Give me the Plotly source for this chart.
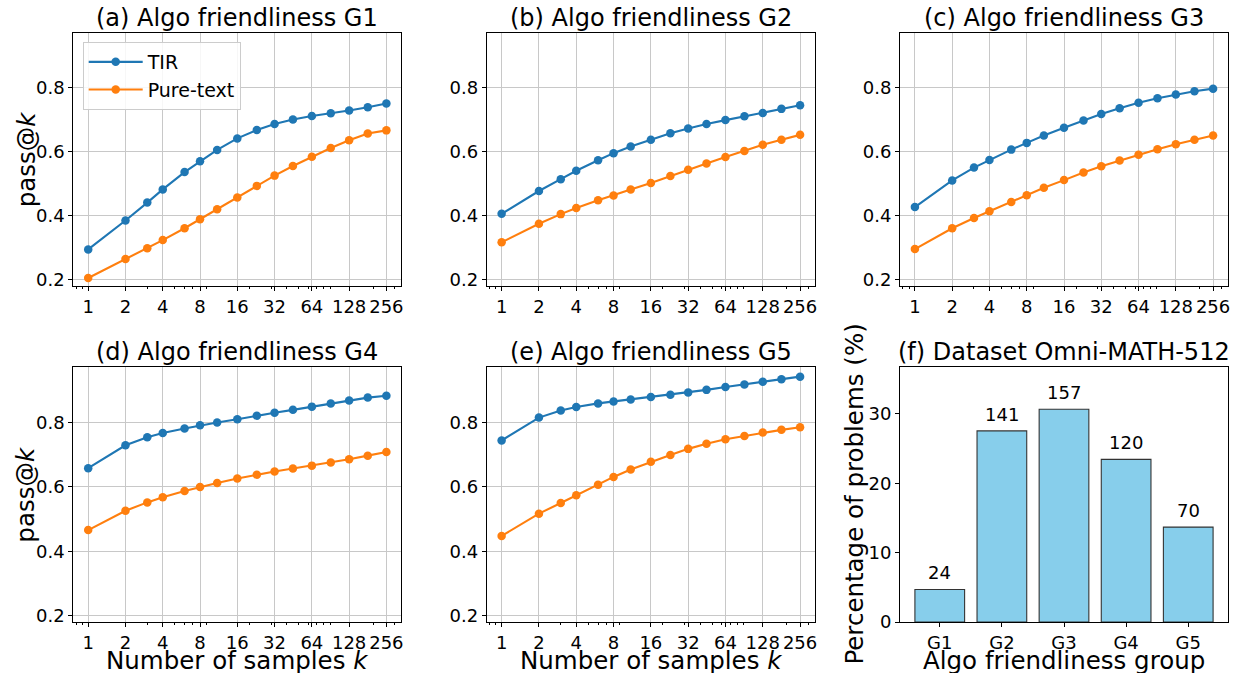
import plotly.graph_objects as go

# ---------------- data ----------------
k_values = [1, 2, 3, 4, 6, 8, 11, 16, 23, 32, 45, 64, 91, 128, 181, 256]
x_tick_vals = [1, 2, 4, 8, 16, 32, 64, 128, 256]
x_tick_text = ["1", "2", "4", "8", "16", "32", "64", "128", "256"]
x_minor_vals = [0.8, 0.9, 3, 5, 6, 7, 9, 20, 30, 40, 50, 60, 70, 80, 90, 200, 300]
y_tick_vals = [0.2, 0.4, 0.6, 0.8]
y_tick_text = ["0.2", "0.4", "0.6", "0.8"]

g1_tir = [0.295, 0.385, 0.441, 0.482, 0.536, 0.570, 0.605, 0.641, 0.667, 0.686, 0.700, 0.711, 0.719, 0.728, 0.738, 0.750]
g1_pure = [0.206, 0.265, 0.299, 0.324, 0.361, 0.389, 0.420, 0.457, 0.493, 0.525, 0.555, 0.584, 0.611, 0.635, 0.656, 0.666]
g2_tir = [0.406, 0.477, 0.514, 0.540, 0.573, 0.595, 0.616, 0.637, 0.657, 0.672, 0.686, 0.698, 0.710, 0.720, 0.733, 0.744]
g2_pure = [0.317, 0.375, 0.405, 0.424, 0.448, 0.463, 0.482, 0.502, 0.524, 0.543, 0.563, 0.583, 0.602, 0.621, 0.637, 0.652]
g3_tir = [0.427, 0.510, 0.550, 0.574, 0.606, 0.627, 0.650, 0.674, 0.697, 0.717, 0.735, 0.752, 0.766, 0.778, 0.788, 0.796]
g3_pure = [0.296, 0.361, 0.393, 0.414, 0.443, 0.464, 0.487, 0.511, 0.535, 0.554, 0.572, 0.590, 0.607, 0.623, 0.637, 0.650]
g4_tir = [0.658, 0.729, 0.754, 0.767, 0.781, 0.791, 0.800, 0.810, 0.821, 0.830, 0.839, 0.849, 0.859, 0.868, 0.877, 0.883]
g4_pure = [0.466, 0.526, 0.552, 0.568, 0.587, 0.600, 0.612, 0.626, 0.638, 0.648, 0.657, 0.666, 0.676, 0.686, 0.697, 0.708]
g5_tir = [0.744, 0.815, 0.837, 0.848, 0.859, 0.865, 0.871, 0.879, 0.886, 0.893, 0.901, 0.910, 0.918, 0.926, 0.934, 0.942]
g5_pure = [0.448, 0.517, 0.550, 0.574, 0.607, 0.631, 0.654, 0.678, 0.699, 0.718, 0.734, 0.748, 0.758, 0.769, 0.777, 0.785]

panel_titles = ["(a) Algo friendliness G1", "(b) Algo friendliness G2", "(c) Algo friendliness G3",
                "(d) Algo friendliness G4", "(e) Algo friendliness G5", "(f) Dataset Omni-MATH-512"]
series_names = ["TIR", "Pure-text"]

groups = ["G1", "G2", "G3", "G4", "G5"]
group_counts = [24, 141, 157, 120, 70]
total_problems = 512

# ---------------- layout helpers ----------------
W, H = 1234, 673
FONT = "DejaVu Sans"
BLUE = "#1f77b4"
ORANGE = "#ff7f0e"
GRID = "#c8c8c8"
TICK_SIZE = 18

col_px = [(73.3, 401.3), (486.7, 815.0), (900.0, 1228.0)]
row_px = [(32.5, 286.0), (367.3, 622.0)]


def xdom(c):
    return [col_px[c][0] / W, col_px[c][1] / W]


def ydom(r):
    return [1 - row_px[r][1] / H, 1 - row_px[r][0] / H]


fig = go.Figure()
layout = dict(
    template="none",
    width=W, height=H,
    margin=dict(l=0, r=0, t=0, b=0, pad=0, autoexpand=False),
    paper_bgcolor="white", plot_bgcolor="white",
    font=dict(family=FONT, size=TICK_SIZE, color="black"),
    showlegend=True,
    legend=dict(
        x=82.7 / W, y=1 - 42.0 / H, xanchor="left", yanchor="top",
        bgcolor="rgba(255,255,255,0.85)", bordercolor="#cccccc", borderwidth=1,
        font=dict(family=FONT, size=19), itemwidth=54, tracegroupgap=0,
    ),
)

line_data = [(g1_tir, g1_pure), (g2_tir, g2_pure), (g3_tir, g3_pure), (g4_tir, g4_pure), (g5_tir, g5_pure)]
annotations = []

for i in range(6):
    r, c = divmod(i, 3)
    ax = "" if i == 0 else str(i + 1)
    xa = "xaxis" + ax
    ya = "yaxis" + ax
    common = dict(showline=True, mirror=True, linecolor="black", linewidth=1,
                  ticks="outside", tickcolor="black", ticklen=4, tickwidth=1,
                  zeroline=False, automargin=False,
                  tickfont=dict(family=FONT, size=TICK_SIZE, color="black"))
    if i < 5:
        tir, pure = line_data[i]
        fig.add_trace(go.Scatter(x=k_values, y=tir, mode="lines+markers", name=series_names[0],
                                 line=dict(color=BLUE, width=2.1), marker=dict(color=BLUE, size=8.5),
                                 xaxis="x" + ax, yaxis="y" + ax, showlegend=(i == 0), legendgroup="tir"))
        fig.add_trace(go.Scatter(x=k_values, y=pure, mode="lines+markers", name=series_names[1],
                                 line=dict(color=ORANGE, width=2.1), marker=dict(color=ORANGE, size=8.5),
                                 xaxis="x" + ax, yaxis="y" + ax, showlegend=(i == 0), legendgroup="pure"))
        layout[xa] = dict(domain=xdom(c), anchor="y" + ax, type="log",
                          range=[-0.4 * 0.30103, 8.4 * 0.30103],
                          tickmode="array", tickvals=x_tick_vals, ticktext=x_tick_text, tickangle=0,
                          showgrid=True, gridcolor=GRID, gridwidth=1,
                          minor=dict(tickmode="array", tickvals=x_minor_vals, ticks="outside",
                                     ticklen=2, tickcolor="black", tickwidth=1, showgrid=False),
                          **common)
        layout[ya] = dict(domain=ydom(r), anchor="x" + ax, range=[0.181, 0.971],
                          tickmode="array", tickvals=y_tick_vals, ticktext=y_tick_text,
                          showgrid=True, gridcolor=GRID, gridwidth=1, **common)
    else:
        pct = [cnt / total_problems * 100 for cnt in group_counts]
        fig.add_trace(go.Bar(x=list(range(len(groups))), y=pct, width=0.8,
                             marker=dict(color="#87ceeb", line=dict(color="#333333", width=1.1)),
                             xaxis="x" + ax, yaxis="y" + ax, showlegend=False))
        layout[xa] = dict(domain=xdom(c), anchor="y" + ax, range=[-0.64, 4.64],
                          tickmode="array", tickvals=list(range(len(groups))), ticktext=groups,
                          showgrid=False, **common)
        layout[ya] = dict(domain=ydom(r), anchor="x" + ax, range=[0, 36.7],
                          tickmode="array", tickvals=[0, 10, 20, 30], ticktext=["0", "10", "20", "30"],
                          showgrid=False, **common)
        for gi, (p, cnt) in enumerate(zip(pct, group_counts)):
            annotations.append(dict(x=gi, y=p, xref="x" + ax, yref="y" + ax, text=str(cnt),
                                    showarrow=False, yanchor="bottom", yshift=4,
                                    font=dict(family=FONT, size=TICK_SIZE, color="black")))
    # panel title
    cx = (col_px[c][0] + col_px[c][1]) / 2 / W
    ty = row_px[r][0] - 15
    annotations.append(dict(x=cx, y=1 - ty / H, xref="paper", yref="paper", text=panel_titles[i],
                            showarrow=False, xanchor="center", yanchor="middle",
                            font=dict(family=FONT, size=24, color="black")))

# axis labels
for r in range(2):
    cy = (row_px[r][0] + row_px[r][1]) / 2
    annotations.append(dict(x=26 / W, y=1 - cy / H, xref="paper", yref="paper", text="pass@<i>k</i>",
                            showarrow=False, textangle=-90, xanchor="center", yanchor="middle",
                            font=dict(family=FONT, size=24.5, color="black")))
for c in range(2):
    cx = (col_px[c][0] + col_px[c][1]) / 2 / W
    annotations.append(dict(x=cx, y=1 - 660 / H, xref="paper", yref="paper",
                            text="Number of samples <i>k</i>", showarrow=False,
                            xanchor="center", yanchor="middle",
                            font=dict(family=FONT, size=24.5, color="black")))
annotations.append(dict(x=(col_px[2][0] + col_px[2][1]) / 2 / W, y=1 - 660 / H, xref="paper", yref="paper",
                        text="Algo friendliness group", showarrow=False, xanchor="center", yanchor="middle",
                        font=dict(family=FONT, size=24.5, color="black")))
annotations.append(dict(x=855 / W, y=1 - 494.6 / H, xref="paper", yref="paper",
                        text="Percentage of problems (%)", showarrow=False, textangle=-90,
                        xanchor="center", yanchor="middle",
                        font=dict(family=FONT, size=24.5, color="black")))

layout["annotations"] = annotations
fig.update_layout(**layout)
fig.write_html("out.html", config={"displayModeBar": False},
               post_script="document.body.style.margin='0px';document.body.style.overflow='hidden';")
